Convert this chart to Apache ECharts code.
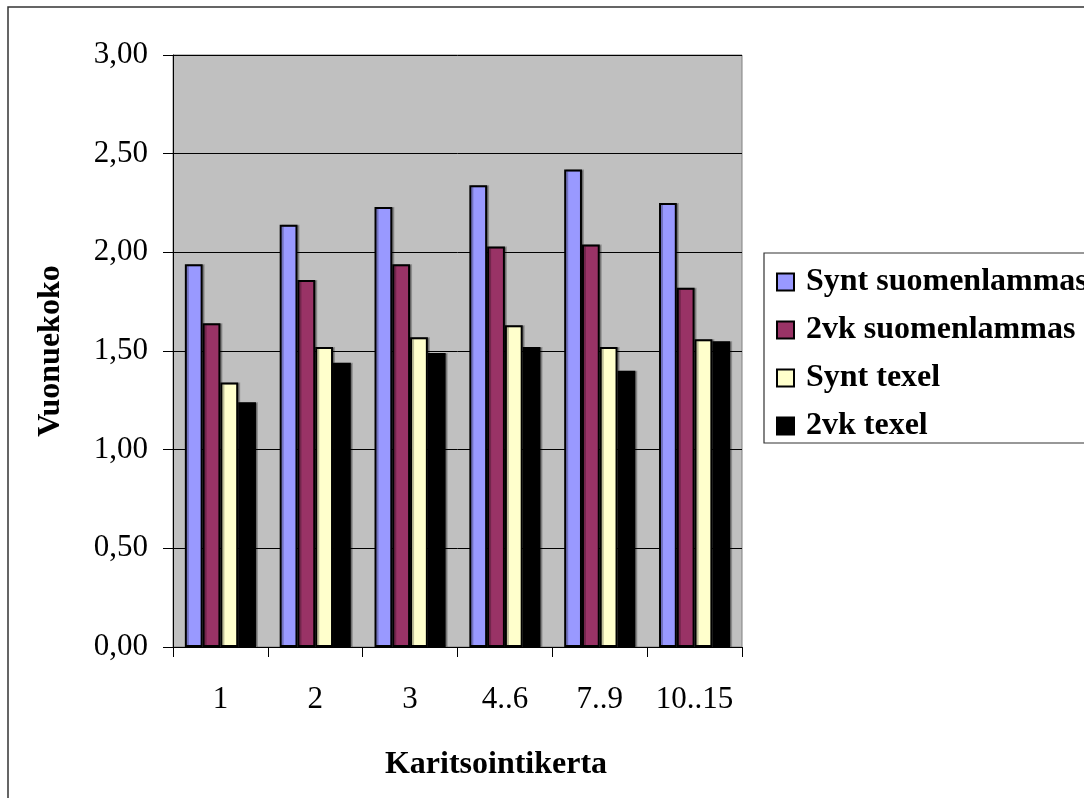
<!DOCTYPE html>
<html>
<head>
<meta charset="utf-8">
<style>
  html, body { margin: 0; padding: 0; background: #fff; }
  #chart { width: 1084px; height: 798px; }
</style>
<script src="https://cdn.jsdelivr.net/npm/echarts@6/dist/echarts.min.js"></script>
</head>
<body>
<div id="chart"></div>
<script>
// Lambing round categories
const categories = ['1', '2', '3', '4..6', '7..9', '10..15'];

// Litter size per breed / group
const syntSuomenlammas = [1.94, 2.14, 2.23, 2.34, 2.42, 2.25];
const vkSuomenlammas   = [1.64, 1.86, 1.94, 2.03, 2.04, 1.82];
const syntTexel        = [1.34, 1.52, 1.57, 1.63, 1.52, 1.56];
const vkTexel          = [1.24, 1.44, 1.49, 1.52, 1.40, 1.55];

const seriesNames = ['Synt suomenlammas', '2vk suomenlammas', 'Synt texel', '2vk texel'];
const seriesColors = ['#9999FF', '#993366', '#FFFFCC', '#000000'];
const seriesData = [syntSuomenlammas, vkSuomenlammas, syntTexel, vkTexel];

const FONT = "'Times New Roman', 'Liberation Serif', serif";

const chart = echarts.init(document.getElementById('chart'));

chart.setOption({
  animation: false,
  backgroundColor: '#ffffff',
  graphic: [
    // outer chart frame
    { type: 'rect', shape: { x: 8, y: 7, width: 1100, height: 820 },
      style: { fill: 'none', stroke: '#333', lineWidth: 1.5 }, z: -10 },
    // legend frame
    { type: 'rect', shape: { x: 764, y: 253, width: 330, height: 190 },
      style: { fill: '#fff', stroke: '#333', lineWidth: 1.2 }, z: -5 },
    // category axis title
    { type: 'text', x: 496, y: 765,
      style: { text: 'Karitsointikerta', fontFamily: FONT, fontSize: 32, fontWeight: 'bold',
               fill: '#000', align: 'center', verticalAlign: 'middle' } }
  ],
  grid: {
    left: 173, top: 55, width: 569, height: 592,
    show: true, backgroundColor: '#C0C0C0', borderColor: '#808080', borderWidth: 1
  },
  legend: {
    orient: 'vertical',
    left: 776, top: 266,
    padding: 0,
    itemWidth: 17, itemHeight: 17, itemGap: 16,
    icon: 'rect',
    data: seriesNames,
    textStyle: { fontFamily: FONT, fontSize: 32, fontWeight: 'bold', color: '#000',
                 lineHeight: 32, padding: [0, 0, 0, 7] }
  },
  xAxis: {
    type: 'category',
    data: categories,
    axisLine: { lineStyle: { color: '#000', width: 1 } },
    axisTick: { show: true, interval: 0, length: 10, alignWithLabel: false, lineStyle: { color: '#000' } },
    axisLabel: { interval: 0, fontFamily: FONT, fontSize: 31, color: '#000', margin: 37 },
    splitLine: { show: false }
  },
  yAxis: {
    type: 'value',
    min: 0, max: 3, interval: 0.5,
    name: 'Vuonuekoko',
    nameLocation: 'middle',
    nameRotate: 90,
    nameGap: 106,
    nameTextStyle: { fontFamily: FONT, fontSize: 32, fontWeight: 'bold', color: '#000' },
    axisLine: { show: true, lineStyle: { color: '#000', width: 1 } },
    axisTick: { show: true, length: 10, lineStyle: { color: '#000' } },
    axisLabel: {
      fontFamily: FONT, fontSize: 31, color: '#000', margin: 25,
      formatter: v => v.toFixed(2).replace('.', ',')
    },
    splitLine: { show: true, lineStyle: { color: '#000', width: 1 } }
  },
  series: seriesNames.map((name, i) => ({
    name,
    type: 'bar',
    data: seriesData[i],
    barGap: '0%',
    barCategoryGap: '25%',
    itemStyle: {
      color: seriesColors[i],
      borderColor: '#000',
      borderWidth: 2,
      shadowColor: 'rgba(0,0,0,0.25)',
      shadowOffsetX: 2,
      shadowOffsetY: 0,
      shadowBlur: 0
    }
  }))
});
</script>
</body>
</html>
